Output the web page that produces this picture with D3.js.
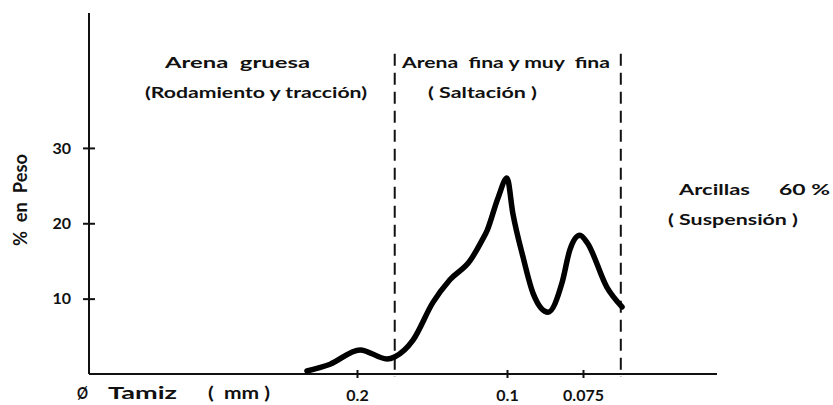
<!DOCTYPE html>
<html>
<head>
<meta charset="utf-8">
<script src="https://cdn.jsdelivr.net/npm/d3@7"></script>
<style>
  html, body { margin: 0; padding: 0; background: #fff; }
  svg { display: block; }
  text { font-family: Lato, "DejaVu Sans", sans-serif; font-weight: bold; fill: #111; }
</style>
</head>
<body>
<svg id="chart" width="833" height="405"></svg>
<script>
// sieve diameter (mm) and weight (%)
const sieveMm = [0.252, 0.2265, 0.1972, 0.1741, 0.1678, 0.1544, 0.1408, 0.1302, 0.1187, 0.1123, 0.1097, 0.1042, 0.1,
  0.0978, 0.0941, 0.0906, 0.0856, 0.0812, 0.0788, 0.0759, 0.0738, 0.0685, 0.0647];
const weightPct = [0.4, 1.3, 3.2, 2.0, 2.3, 4.5, 9.5, 12.5, 15, 17.7, 19, 23.4, 26,
  21.3, 15.5, 10.7, 8.2, 12.1, 16.5, 18.4, 17.4, 11.5, 8.9];

// tick values
const xTicks = [0.2, 0.1, 0.075];
const xTickLabels = ["0.2", "0.1", "0.075"];
const yTicks = [10, 20, 30];

// fraction boundaries (mm) and height of the dashed separators (%)
const boundaries = [0.168, 0.065];
const boundaryTop = 42.5;

const svg = d3.select("#chart");
const margin = { top: 13, left: 89 };
const width = 628;
const height = 361;

const g = svg.append("g").attr("transform", `translate(${margin.left},${margin.top})`);

// hand drawn sieve axis: log scale with its own spacing per segment
const x = d3.scaleLog().domain(xTicks).range([268, 418, 494]);
const y = d3.scaleLinear().domain([0, 47.9]).range([height, 0]);

// x axis
const xAxis = g.append("g")
  .attr("transform", `translate(0,${height})`)
  .call(d3.axisBottom(x).tickValues(xTicks).tickFormat((d, i) => xTickLabels[i]).tickSizeOuter(0));
xAxis.select(".domain").attr("d", `M0,0H${width}`).attr("stroke", "#111").attr("stroke-width", 2);
xAxis.selectAll(".tick line").attr("y1", -4).attr("y2", 4).attr("stroke", "#111").attr("stroke-width", 2);
xAxis.selectAll(".tick text").attr("y", 27).attr("dy", 0).attr("font-size", 16).attr("font-family", null).attr("fill", "#111");

// y axis
const yAxis = g.append("g")
  .call(d3.axisLeft(y).tickValues(yTicks).tickSizeOuter(0));
yAxis.select(".domain").attr("d", `M0,${height}V0`).attr("stroke", "#111").attr("stroke-width", 2);
yAxis.selectAll(".tick line").attr("x1", -6).attr("x2", 6).attr("stroke", "#111").attr("stroke-width", 2);
yAxis.selectAll(".tick text").attr("x", -18).attr("font-size", 16).attr("font-family", null).attr("fill", "#111");

// dashed fraction separators
g.selectAll(".sep")
  .data(boundaries)
  .enter()
  .append("line")
  .attr("class", "sep")
  .attr("x1", (d) => x(d))
  .attr("x2", (d) => x(d))
  .attr("y1", y(boundaryTop))
  .attr("y2", y(0) + 3)
  .attr("stroke", "#111")
  .attr("stroke-width", 2)
  .attr("stroke-dasharray", "12,7");

// grain size curve
const points = sieveMm.map((d, i) => [d, weightPct[i]]);
const line = d3.line()
  .x((d) => x(d[0]))
  .y((d) => y(d[1]))
  .curve(d3.curveMonotoneX);

g.append("path")
  .datum(points)
  .attr("d", line)
  .attr("fill", "none")
  .attr("stroke", "#000")
  .attr("stroke-width", 5.5)
  .attr("stroke-linecap", "round")
  .attr("stroke-linejoin", "round");

// annotations: [text, left, baseline, width, size]
const labels = [
  ["Arena  gruesa", 165, 68, 145, 16],
  ["(Rodamiento y tracción)", 145, 98, 222, 16],
  ["Arena  fina y muy  fina", 402, 68, 208, 16],
  ["( Saltación )", 428, 98, 109, 16],
  ["Arcillas", 679, 195, 71, 16],
  ["60 %", 779, 195, 51, 16],
  ["( Suspensión )", 668, 225, 130, 16],
  ["Ø", 77, 399, 11, 17],
  ["Tamiz", 108, 399, 69, 17],
  ["(  mm )", 208, 399, 62, 17]
];

svg.selectAll(".note")
  .data(labels)
  .enter()
  .append("text")
  .attr("class", "note")
  .attr("x", (d) => d[1])
  .attr("y", (d) => d[2])
  .attr("textLength", (d) => d[3])
  .attr("lengthAdjust", "spacingAndGlyphs")
  .attr("font-size", (d) => d[4])
  .style("white-space", "pre")
  .text((d) => d[0]);

// y axis title
svg.append("text")
  .attr("transform", "translate(27,200) rotate(-90)")
  .attr("text-anchor", "middle")
  .attr("font-size", 18)
  .attr("textLength", 92)
  .attr("lengthAdjust", "spacingAndGlyphs")
  .style("white-space", "pre")
  .text("%  en  Peso");
</script>
</body>
</html>
